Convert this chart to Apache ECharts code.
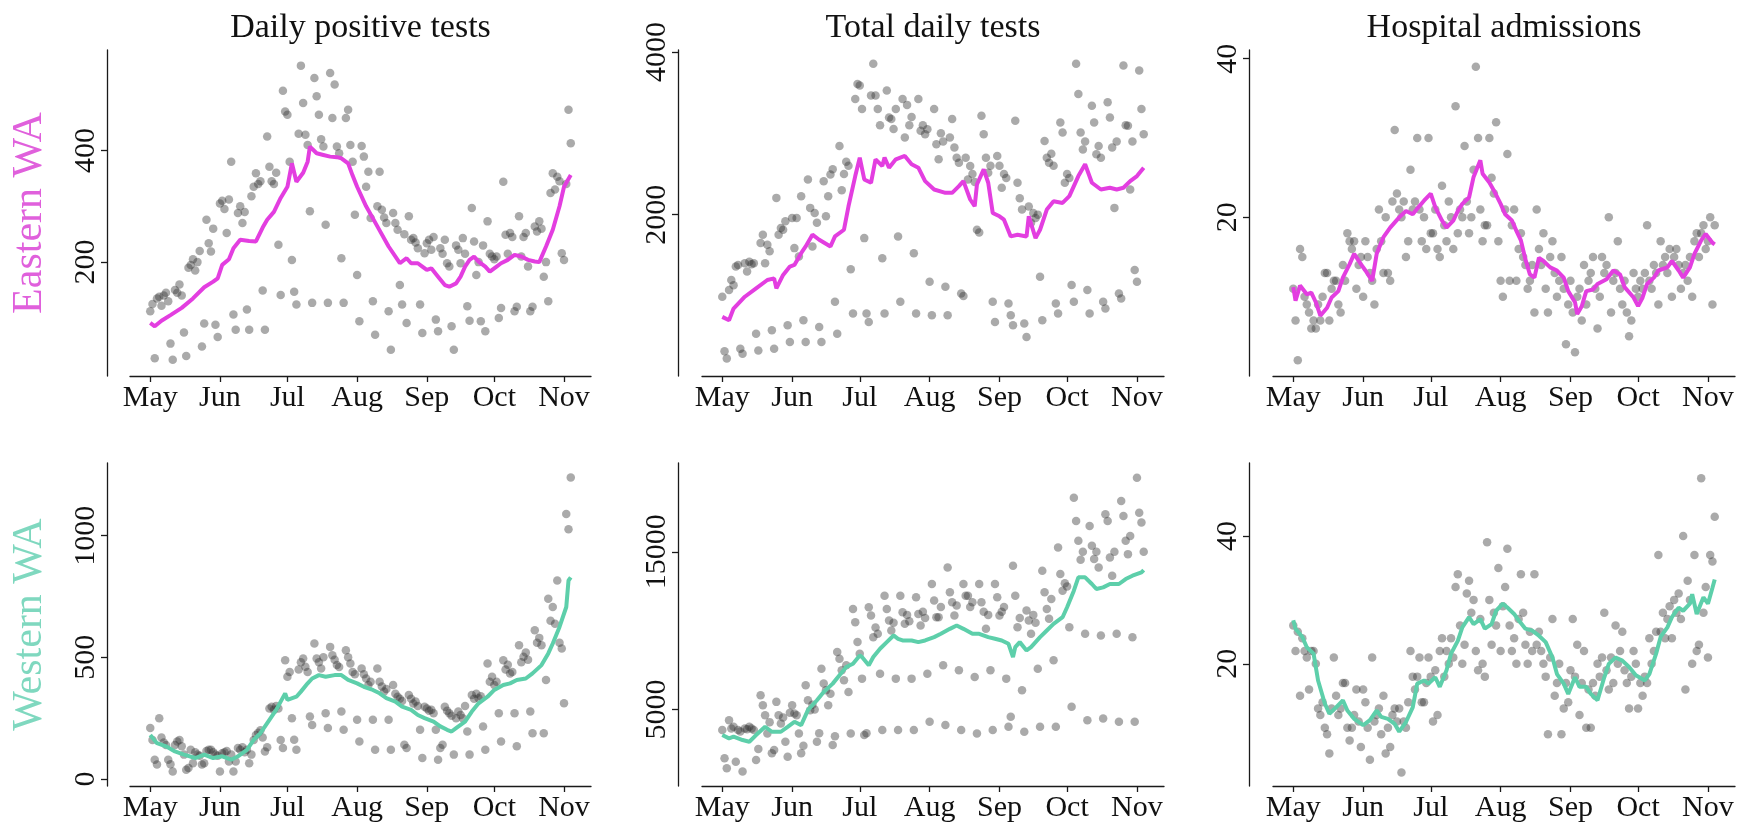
<!DOCTYPE html>
<html><head><meta charset="utf-8">
<script src="https://cdn.jsdelivr.net/npm/echarts@6/dist/echarts.min.js"></script>
<style>html,body{margin:0;padding:0;background:#fff}#c{width:1750px;height:833px}</style>
</head><body><div id="c"></div>
<script>
// Day index 0 = May 1
const monthTicks = [0, 31, 61, 92, 123, 153, 184];
const monthLabels = ['May', 'Jun', 'Jul', 'Aug', 'Sep', 'Oct', 'Nov'];
const panelTitles = ['Daily positive tests', 'Total daily tests', 'Hospital admissions'];
const regionNames = ['Eastern WA', 'Western WA'];

// Eastern WA daily values (May 1 onward)
const eastPositive = [112,125,28,135,138,122,140,145,130,54,
25,150,145,160,140,74,32,190,195,205,
185,200,220,49,90,276,234,219,260,88,
66,305,310,295,252,312,380,106,79,288,
300,270,290,115,79,318,335,359,340,345,
149,79,425,371,345,340,360,231,141,507,
470,464,380,204,147,124,430,552,485,428,
410,291,127,530,497,464,420,407,267,127,
539,458,518,407,395,207,127,458,473,410,
380,285,177,94,408,389,335,362,279,130,
70,300,362,294,280,270,112,43,288,270,
258,159,124,250,91,282,240,243,235,225,
124,73,216,234,240,222,245,97,76,225,
215,240,198,192,85,43,230,222,198,243,
215,121,95,297,237,177,200,94,230,76,
273,215,210,205,210,100,118,344,249,215,
252,245,112,120,282,210,245,252,192,112,
120,264,255,273,260,174,200,130,324,359,
330,353,345,216,204,340,473,413];
const eastTests = [990,320,230,1072,1196,1130,1361,1381,350,290,
1402,1300,1420,1390,1402,536,330,1650,1753,1402,
1629,1550,577,350,2206,1753,1835,1814,1918,640,
433,1959,1588,1959,1485,2227,701,433,2433,2083,
1608,2021,1900,618,433,2412,1979,2227,2495,2557,
928,536,2845,2300,2500,2650,2600,1328,783,3423,
3608,3588,3300,1711,783,680,3464,3856,3464,3300,
3100,1464,783,3526,3196,3175,3052,3299,1732,928,
3423,2949,3350,3100,3200,1526,783,3423,3031,3100,
2990,3050,1175,763,3299,2866,2680,3000,2900,1113,
763,2949,3175,2825,2700,2639,1031,1000,2700,2433,
2598,2500,2400,1814,1780,3217,2990,2700,2515,2600,
928,680,2722,2600,2330,2500,2450,907,763,639,
3155,2392,2200,2062,660,495,2100,1900,2021,1959,
2000,1237,701,2907,2700,2639,2750,2600,907,783,
3134,3010,2392,2500,2450,1134,928,3856,3485,3010,
2800,2900,1072,783,3340,3134,2742,2845,2700,928,
845,3382,3196,2825,2083,2900,1031,969,3835,3100,
3093,2309,2900,1320,1175,3773,3299,2990];
const eastHosp = [11,7,2,16,15,10,9,8,6,7,
6,9,7,10,13,13,7,11,12,12,
9,8,14,12,18,17,16,17,11,14,
15,10,17,15,13,12,9,16,21,17,
13,20,13,12,22,31,23,21,20,22,
15,17,26,21,22,30,21,17,20,16,
30,18,18,21,16,15,24,19,17,22,
20,16,34,18,21,20,29,22,18,20,
26,39,30,21,17,19,19,30,25,23,
32,17,12,10,21,28,12,19,21,12,
16,18,15,14,11,12,14,8,21,16,
14,18,11,8,15,17,13,10,12,15,
11,4,9,12,8,3,10,11,7,14,
9,12,13,15,11,6,10,15,13,14,
20,8,12,13,17,11,9,12,8,5,
7,13,11,10,12,11,13,19,12,11,
14,13,9,17,14,15,13,16,10,15,
16,14,11,13,14,12,15,10,17,18,
15,18,19,16,17,20,9,19];

// Western WA daily values
const westPositive = [209,160,79,59,250,170,150,140,79,60,
31,140,154,160,134,100,38,45,120,65,
110,100,95,59,65,115,120,120,110,100,
95,31,106,110,115,72,100,31,72,127,
120,130,110,120,65,100,160,181,190,200,
170,113,130,290,297,284,300,290,160,127,
488,420,440,250,161,120,450,480,495,461,
440,257,222,557,495,480,454,500,270,209,
543,509,490,468,460,277,202,529,500,475,
440,430,243,154,454,430,413,386,400,243,
120,454,400,380,360,370,243,120,386,350,
338,330,320,141,127,345,330,310,318,300,
202,86,297,290,280,284,270,202,79,127,
141,297,280,270,260,100,250,277,263,250,
300,195,100,345,330,350,332,340,216,120,
475,400,420,386,400,270,154,488,450,470,
434,440,270,134,550,480,502,520,490,277,
188,611,560,580,550,188,407,741,650,707,
638,816,560,536,311,1089,1027,1239];
const westTests = [3695,1906,1274,4326,3800,3900,1695,3695,3600,1063,
3800,3750,3900,3800,3700,1800,2500,5905,5274,4642,
3484,4200,2221,2432,5484,4642,4116,4500,2958,2011,
4800,5274,4747,4642,3484,2221,2700,6537,5589,4958,
5300,5000,2958,3500,7589,6642,6221,5274,6000,2748,
3300,8642,8221,7484,6852,7800,6116,3484,11378,10536,
9273,8536,6958,3379,3500,11484,10957,9589,10200,9800,
7273,3695,12220,11378,10641,10010,10500,6958,3695,12220,
11168,10431,11000,10600,6958,3695,12115,11063,10326,11200,
10800,7273,4221,12957,11905,10852,10852,11500,7800,4011,
14010,12431,11799,10957,11600,7484,3695,12957,12220,12220,
11500,11800,7063,3484,12957,11799,11200,10115,11000,7484,
3695,12957,12115,10957,11200,11500,6958,3905,4537,14115,
12220,10220,10800,6221,3590,11273,10641,9800,11000,10500,
7589,3905,13800,12431,11378,10747,12000,8116,3905,15273,
13589,12536,13000,12800,10220,5168,18430,16957,15694,14500,
15000,9800,4326,16641,15378,14536,15000,14000,9694,4432,
17378,16957,14641,13484,15000,9800,4221,18220,17273,15694,
14852,16000,9589,4221,19694,17483,16852,15000];
const westHosp = [26,22,25,15,24,22,21,16,22,22,
20,13,12,14,10,9,6,13,21,15,
12,13,17,17,10,8,10,12,16,11,
7,16,14,10,5,21,11,12,13,9,
15,6,10,7,12,13,11,13,3,11,
10,14,22,18,16,18,21,14,14,17,
21,18,11,19,12,22,24,18,22,20,
24,21,32,34,26,20,23,31,33,28,
30,22,19,27,20,18,39,30,23,28,
26,35,22,29,32,38,26,22,24,20,
27,34,28,23,20,25,22,34,23,25,
22,20,18,9,21,27,15,17,20,9,
13,17,14,19,27,18,23,12,17,22,
10,16,10,17,15,20,18,21,28,19,
16,21,17,26,20,22,25,19,17,13,
18,22,20,13,17,15,18,17,24,20,
22,25,37,25,28,24,27,29,24,30,
28,31,27,40,16,33,30,20,37,22,
23,49,28,32,21,37,36,43];

// 7-day average lines: [dayIndex, value]
const eastPositiveAvg = [[0,91],[2,85],[5,95],[9,105],[14,118],[19,135],[24,155],[28,165],[30,171],[32,195],[35,205],[37,225],[40,240],[44,238],[47,237],[50,262],[52,276],[55,290],[58,315],[61,335],[63,377],[65,344],[68,360],[70,380],[71,407],[74,395],[77,392],[80,389],[83,388],[85,386],[88,377],[90,355],[92,335],[96,300],[101,264],[106,228],[111,198],[114,207],[116,198],[119,198],[121,192],[123,186],[125,189],[128,174],[131,159],[133,156],[136,162],[138,174],[140,192],[142,204],[144,210],[146,201],[149,192],[151,183],[154,192],[156,198],[159,204],[162,213],[165,210],[168,204],[171,201],[173,200],[176,228],[179,258],[182,300],[184,335],[187,356]];
const eastTestsAvg = [[0,742],[3,701],[5,845],[10,990],[15,1093],[20,1196],[23,1216],[24,1093],[27,1258],[30,1361],[32,1381],[35,1526],[37,1608],[40,1753],[43,1691],[48,1608],[50,1732],[54,1814],[56,2103],[59,2474],[61,2701],[63,2433],[66,2392],[68,2680],[71,2598],[72,2701],[74,2577],[77,2680],[81,2722],[84,2619],[87,2577],[90,2412],[94,2309],[99,2268],[102,2268],[105,2350],[107,2412],[110,2186],[112,2103],[113,2371],[116,2557],[118,2392],[120,2021],[123,1979],[125,1938],[128,1732],[131,1753],[135,1732],[136,1979],[139,1711],[141,1814],[144,2062],[147,2165],[151,2144],[154,2227],[158,2474],[161,2619],[164,2392],[168,2309],[172,2330],[175,2309],[178,2330],[181,2412],[184,2474],[187,2577]];
const eastHospAvg = [[0,11.2],[1,9.5],[3,11.4],[6,10.3],[8,10.5],[10,9.3],[12,7.6],[15,8.6],[17,9.9],[20,10.7],[22,12.4],[25,14.1],[27,15.4],[30,14.1],[32,13.3],[35,12],[37,15.4],[40,17.5],[43,18.7],[47,20],[50,20.8],[53,20.4],[55,21.1],[58,22.1],[61,23],[63,21.3],[66,19.6],[68,18.7],[71,19.6],[73,20.8],[75,21.7],[78,22.5],[80,25.1],[83,27.2],[84,25.5],[87,24.4],[89,23.4],[92,21.7],[94,20.4],[97,19.6],[99,18.3],[101,17.1],[103,14.7],[105,12.8],[107,12.4],[109,14.9],[111,14.5],[114,13.7],[117,13.3],[120,12.4],[122,10.7],[125,9.3],[126,7.8],[128,8.8],[130,10.7],[133,10.9],[135,11.6],[139,12.2],[142,13.3],[145,12.8],[147,11.2],[151,9.9],[153,8.8],[155,9.9],[157,11.6],[160,12.4],[162,13.3],[166,13.7],[168,14.5],[171,13.3],[173,12.4],[176,13.7],[178,15.4],[181,17.1],[183,17.9],[186,16.8],[187,16.6]];
const westPositiveAvg = [[0,181],[3,147],[7,134],[11,113],[15,100],[20,86],[24,100],[28,86],[32,93],[36,79],[39,93],[43,120],[46,161],[49,188],[53,243],[56,284],[60,352],[61,325],[65,338],[67,359],[70,393],[72,413],[75,427],[78,420],[82,427],[85,427],[88,407],[92,393],[95,379],[99,366],[102,352],[105,332],[109,318],[112,297],[116,284],[119,263],[122,250],[126,236],[129,216],[132,202],[134,195],[136,209],[140,236],[143,277],[146,311],[150,338],[153,366],[157,386],[160,393],[163,407],[167,413],[170,434],[174,468],[177,516],[179,557],[182,625],[185,707],[186,816],[187,829]];
const westTestsAvg = [[0,3379],[3,3169],[5,3274],[9,3063],[12,2958],[15,3379],[19,3905],[22,3590],[26,3590],[29,3905],[32,4221],[35,4011],[38,4958],[42,5589],[45,6116],[49,6642],[52,7168],[55,7694],[58,7905],[61,8431],[62,8326],[65,7800],[67,8326],[70,8852],[73,9273],[76,9694],[78,9484],[80,9378],[84,9378],[87,9273],[90,9378],[94,9589],[97,9800],[101,10115],[104,10326],[107,10115],[111,9800],[114,9800],[118,9589],[121,9484],[124,9378],[127,9168],[129,8326],[130,8957],[132,9273],[135,8747],[137,8957],[141,9589],[144,10010],[147,10431],[151,10852],[153,11483],[156,12536],[158,13378],[161,13378],[164,12957],[166,12641],[169,12746],[172,12957],[176,12957],[179,13273],[182,13484],[186,13694],[187,13841]];
const westHospAvg = [[0,26.8],[1,25.5],[4,24.2],[6,22.6],[9,21.6],[11,17.4],[14,13.8],[16,12.2],[19,13.2],[22,14.3],[24,12.7],[27,11.4],[31,10.4],[34,11.2],[37,12.7],[39,11.7],[42,11.4],[45,10.6],[47,9.4],[50,10.9],[53,13.2],[55,16.9],[58,17.4],[60,16.9],[63,17.9],[65,16.4],[68,19],[70,21.6],[73,23.6],[75,25.7],[78,27.3],[80,26.2],[83,27],[85,25.5],[88,26.2],[90,28.3],[93,29.4],[95,28.8],[98,27.8],[100,26.8],[103,25.5],[106,25.2],[109,24.4],[112,23.4],[115,21],[117,18.4],[120,16.9],[122,15.3],[125,17.9],[127,16.4],[130,16.4],[132,15.3],[135,14.3],[138,17.9],[140,20],[143,21],[146,20.5],[149,19.5],[152,18.2],[156,17.4],[158,18.4],[161,21.6],[163,24.2],[166,25.7],[168,27.3],[171,28.8],[173,28.3],[176,29.4],[177,30.9],[179,27.8],[182,30.4],[184,29.4],[186,31.9],[187,33.2]];

// Axis tick values and ranges
const yTickValues = [[200,400],[2000,4000],[20,40],[0,500,1000],[5000,15000],[20,40]];
const yRanges = [[-4,580],[15,4025],[0,41.1],[-29,1299],[150,20630],[0.9,51.4]];
const xRange = [-9, 196];

const panelPoints = [eastPositive, eastTests, eastHosp, westPositive, westTests, westHosp];
const panelLines = [eastPositiveAvg, eastTestsAvg, eastHospAvg, westPositiveAvg, westTestsAvg, westHospAvg];

// layout
const FONT = "'Liberation Serif','DejaVu Serif',serif";
const colLeft = [130, 702, 1273];
const colWidth = [461, 462, 462];
const rowTop = [50, 463];
const rowHeight = [326, 323];
const yOffset = [23, 24, 24];
const lineColors = ['#E33EE0', '#5DCFAA'];
const labelColors = ['#E060DC', '#7FD8BF'];

const chart = echarts.init(document.getElementById('c'), null, {renderer: 'canvas'});
const grid = [], xAxis = [], yAxis = [], series = [];
for (let r = 0; r < 2; r++) {
  for (let c = 0; c < 3; c++) {
    const i = r * 3 + c;
    grid.push({left: colLeft[c], top: rowTop[r], width: colWidth[c], height: rowHeight[r], containLabel: false});
    xAxis.push({
      type: 'value', gridIndex: i, min: xRange[0], max: xRange[1], position: 'bottom',
      axisLine: {show: true, onZero: false, lineStyle: {color: '#1a1a1a', width: 1.3}},
      axisTick: {show: true, length: 6, customValues: monthTicks, lineStyle: {color: '#1a1a1a', width: 1.3}},
      axisLabel: {show: true, customValues: monthTicks, margin: 7, color: '#111', fontFamily: FONT, fontSize: 30,
        formatter: v => monthLabels[monthTicks.indexOf(v)] || ''},
      splitLine: {show: false}
    });
    yAxis.push({
      type: 'value', gridIndex: i, min: yRanges[i][0], max: yRanges[i][1], offset: yOffset[c], position: 'left',
      axisLine: {show: true, onZero: false, lineStyle: {color: '#1a1a1a', width: 1.3}},
      axisTick: {show: true, length: 6, customValues: yTickValues[i], lineStyle: {color: '#1a1a1a', width: 1.3}},
      axisLabel: {show: true, customValues: yTickValues[i], rotate: 90, margin: 6, color: '#111', fontFamily: FONT, fontSize: 30,
        formatter: v => String(v)},
      splitLine: {show: false}
    });
    series.push({
      type: 'scatter', xAxisIndex: i, yAxisIndex: i, symbolSize: 8.5, z: 2,
      itemStyle: {color: 'rgba(50,50,50,0.52)'},
      data: panelPoints[i].map((v, d) => [d, v]),
      silent: true
    });
    series.push({
      type: 'line', xAxisIndex: i, yAxisIndex: i, showSymbol: false, symbol: 'none', z: 3,
      lineStyle: {color: lineColors[r], width: 4},
      data: panelLines[i], silent: true
    });
  }
}
const graphic = [];
for (let c = 0; c < 3; c++) {
  graphic.push({type: 'text', x: colLeft[c] + colWidth[c] / 2, y: 28,
    style: {text: panelTitles[c], fill: '#111', font: '34px ' + FONT, align: 'center', verticalAlign: 'middle', textAlign: 'center', textVerticalAlign: 'middle'}});
}
for (let r = 0; r < 2; r++) {
  graphic.push({type: 'text', x: 30, y: rowTop[r] + rowHeight[r] / 2, rotation: Math.PI / 2,
    style: {text: regionNames[r], fill: labelColors[r], font: '42px ' + FONT, align: 'center', verticalAlign: 'middle', textAlign: 'center', textVerticalAlign: 'middle'}});
}
chart.setOption({animation: false, backgroundColor: '#fff', grid, xAxis, yAxis, series, graphic});
</script></body></html>
